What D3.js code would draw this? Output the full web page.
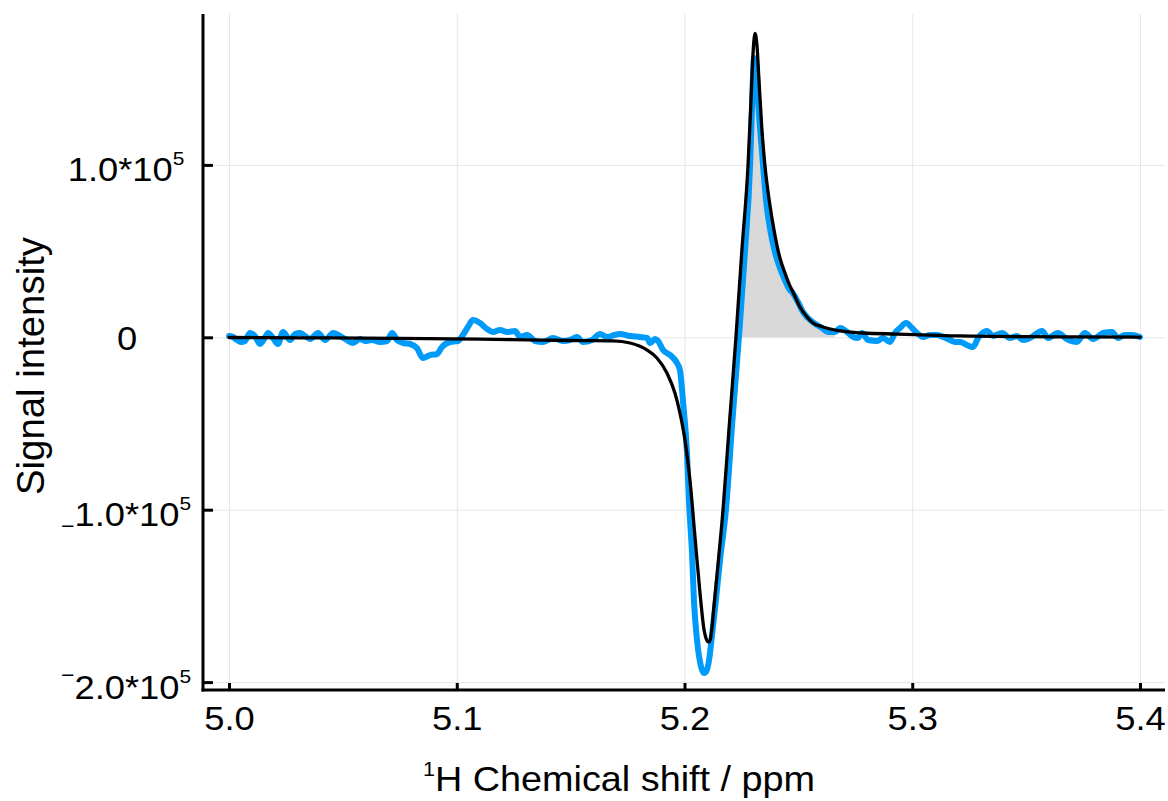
<!DOCTYPE html>
<html><head><meta charset="utf-8">
<script src="https://cdn.jsdelivr.net/npm/d3@7"></script>
<style>
body{margin:0;background:#fff}
svg{display:block}
text{font-family:"Liberation Sans",Arial,Helvetica,sans-serif;fill:#000}
</style>
</head><body>
<svg id="chart" width="1168" height="801"></svg>
<script>
// ---- data ----
const dataPpm = [5.0000,5.0018,5.0035,5.0053,5.0070,5.0092,5.0114,5.0136,5.0162,5.0171,
5.0193,5.0215,5.0237,5.0268,5.0290,5.0312,5.0334,5.0356,5.0391,5.0422,
5.0457,5.0487,5.0518,5.0544,5.0575,5.0597,5.0628,5.0663,5.0694,5.0716,
5.0738,5.0764,5.0795,5.0825,5.0852,5.0883,5.0913,5.0935,5.0970,5.1005,
5.1027,5.1049,5.1071,5.1102,5.1133,5.1159,5.1190,5.1221,5.1256,5.1278,
5.1309,5.1344,5.1379,5.1423,5.1466,5.1497,5.1528,5.1554,5.1594,5.1629,
5.1660,5.1690,5.1717,5.1761,5.1805,5.1836,5.1849,5.1871,5.1884,5.1906,
5.1937,5.1967,5.1980,5.1994,5.2011,5.2020,5.2033,5.2042,5.2055,5.2073,
5.2086,5.2094,5.2108,5.2121,5.2138,5.2156,5.2182,5.2209,5.2239,5.2266,
5.2288,5.2296,5.2305,5.2314,5.2323,5.2336,5.2345,5.2358,5.2375,5.2397,
5.2419,5.2441,5.2463,5.2472,5.2498,5.2520,5.2542,5.2582,5.2604,5.2630,
5.2661,5.2683,5.2714,5.2740,5.2762,5.2779,5.2806,5.2845,5.2872,5.2902,
5.2924,5.2946,5.2973,5.2999,5.3021,5.3047,5.3078,5.3109,5.3135,5.3166,
5.3188,5.3210,5.3240,5.3267,5.3289,5.3328,5.3355,5.3394,5.3429,5.3460,
5.3486,5.3517,5.3570,5.3596,5.3640,5.3679,5.3723,5.3758,5.3794,5.3838,
5.3877,5.3903,5.3934,5.3965,5.4000];
const dataIntensity = [750,170,-1570,-2730,-2150,2490,750,-3890,750,2490,
-410,-3890,3070,-1570,1910,2490,750,-990,2490,-1570,
2490,750,-1570,-3310,-990,-2150,-1570,-2730,-2150,2490,
-1570,-3310,-3890,-6210,-12000,-10300,-9700,-5630,-2730,-2150,
1330,5970,10000,8290,4810,3070,4230,3070,3650,170,
1330,-2150,-2730,-410,-2150,-1570,170,-2730,-1570,1910,
170,1330,1910,750,170,-410,-3310,-990,-2150,-7400,
-10300,-14900,-19000,-38100,-67100,-96100,-125100,-154100,-175600,-191200,
-194700,-194100,-187100,-172600,-152300,-129100,-100000,-50800,200,50600,
99900,131800,162000,160800,137600,114400,99900,79600,63400,49500,
40200,33200,27400,26300,20500,14700,11200,7100,5400,3100,
3100,5400,3100,200,-400,2500,-1600,-2100,-400,-2700,
2500,5400,8300,5400,2500,200,1300,1300,200,-1600,
-2700,-2700,-4500,-5600,-400,3700,800,2500,-400,800,
-1600,-400,3700,-400,2500,-1000,-2700,2500,-1000,2500,
3100,-400,1300,1300,200];

const fitPpm = [5.0000,5.0312,5.0751,5.1102,5.1366,5.1541,5.1686,5.1761,5.1836,5.1879,
5.1923,5.1958,5.1980,5.2002,5.2024,5.2046,5.2068,5.2086,5.2095,5.2102,
5.2108,5.2113,5.2118,5.2130,5.2147,5.2169,5.2195,5.2226,5.2252,5.2279,
5.2292,5.2300,5.2305,5.2309,5.2313,5.2318,5.2327,5.2340,5.2353,5.2375,
5.2397,5.2419,5.2441,5.2463,5.2476,5.2507,5.2538,5.2564,5.2608,5.2683,
5.2784,5.2933,5.3078,5.3210,5.3605,5.4000];
const fitIntensity = [-100,-300,-600,-1000,-1600,-1900,-2100,-3300,-7400,-12000,
-20700,-32300,-43900,-59600,-82800,-115800,-148300,-169800,-174800,-176500,
-176700,-175500,-171500,-155200,-132000,-100200,-53800,200,50600,99900,
137600,162500,172500,176300,175000,169500,149200,120200,99900,76700,
59300,46000,37300,29800,26300,17600,11800,8300,6000,3700,
2500,1900,1300,800,300,100];

const integralRange = [5.2239, 5.2661];
const xTicks = [5.0, 5.1, 5.2, 5.3, 5.4];
const xTickLabels = ["5.0", "5.1", "5.2", "5.3", "5.4"];
const yTicks = [-2e5, -1e5, 0, 1e5];
const xDomain = [4.98858, 5.41098];
const yDomain = [-2.0458e5, 1.8753e5];
const xTitle = "H Chemical shift / ppm";
const xTitleSup = "1";
const yTitle = "Signal intensity";

// ---- layout ----
const L = 203, R = 1165, T = 14, B = 690;
const svg = d3.select("#chart");
const x = d3.scaleLinear().domain(xDomain).range([L, R]);
const y = d3.scaleLinear().domain(yDomain).range([B, T]);
const STRETCH = 1.1;
const TICK_FS = 33;
const FONT = '"Liberation Sans",Arial,Helvetica,sans-serif';

// grid
svg.append("g").attr("transform", `translate(0,${B})`)
  .call(d3.axisBottom(x).tickValues(xTicks).tickSize(-(B - T)).tickFormat(""))
  .call(g => { g.select(".domain").remove(); g.selectAll("line").attr("stroke", "#e6e6e6").attr("stroke-width", 1); });
svg.append("g").attr("transform", `translate(${L},0)`)
  .call(d3.axisLeft(y).tickValues(yTicks).tickSize(-(R - L)).tickFormat(""))
  .call(g => { g.select(".domain").remove(); g.selectAll("line").attr("stroke", "#e6e6e6").attr("stroke-width", 1); });

// data
const blue = dataPpm.map((p, i) => [p, dataIntensity[i]]);
const fit = fitPpm.map((p, i) => [p, fitIntensity[i]]);
const integ = blue.filter(d => d[0] >= integralRange[0] && d[0] <= integralRange[1]);

svg.append("path").datum(integ)
  .attr("fill", "#d9d9d9")
  .attr("d", d3.area().curve(d3.curveMonotoneX).x(d => x(d[0])).y0(y(0)).y1(d => y(d[1])));

svg.append("path").datum(blue)
  .attr("fill", "none").attr("stroke", "#009af9").attr("stroke-width", 6)
  .attr("stroke-linejoin", "round").attr("stroke-linecap", "round")
  .attr("d", d3.line().curve(d3.curveMonotoneX).x(d => x(d[0])).y(d => y(d[1])));

svg.append("path").datum(fit)
  .attr("fill", "none").attr("stroke", "#000").attr("stroke-width", 3.3)
  .attr("stroke-linejoin", "round").attr("stroke-linecap", "round")
  .attr("d", d3.line().curve(d3.curveMonotoneX).x(d => x(d[0])).y(d => y(d[1])));

// axes
const xAxis = svg.append("g").attr("transform", `translate(0,${B})`)
  .call(d3.axisBottom(x).tickValues(xTicks).tickSize(-7).tickSizeOuter(0)
        .tickPadding(0).tickFormat((d, i) => xTickLabels[i]));
xAxis.select(".domain").attr("stroke", "#000").attr("stroke-width", 3)
  .attr("d", `M${L - 1.5},0H${R}`);
xAxis.selectAll(".tick line").attr("stroke", "#000").attr("stroke-width", 3);
xAxis.selectAll(".tick text")
  .attr("font-size", TICK_FS).attr("fill", "#000").attr("y", 0).attr("dy", 0)
  .attr("transform", `translate(0,40) scale(${STRETCH},1)`)
  .attr("font-family", FONT);

const yAxis = svg.append("g").attr("transform", `translate(${L},0)`)
  .call(d3.axisLeft(y).tickValues(yTicks).tickSize(-10).tickSizeOuter(0).tickPadding(0));
yAxis.select(".domain").attr("stroke", "#000").attr("stroke-width", 3)
  .attr("d", `M0,${B + 1.5}V${T}`);
yAxis.selectAll(".tick line").attr("stroke", "#000").attr("stroke-width", 3);
yAxis.selectAll(".tick text").each(function (v) {
  const t = d3.select(this);
  t.text(null).attr("x", 0).attr("dy", 0).attr("y", 0)
   .attr("text-anchor", "middle").attr("font-size", TICK_FS).attr("fill", "#000")
   .attr("font-family", FONT);
  if (v === 0) {
    t.attr("transform", `translate(-76,12) scale(${STRETCH},1)`).text("0");
    return;
  }
  const e = Math.floor(Math.log10(Math.abs(v)));
  const m = (Math.abs(v) / Math.pow(10, e)).toFixed(1);
  t.attr("transform", `translate(-77,16) scale(${STRETCH},1)`);
  if (v < 0) {
    const shift = Math.abs(v) >= 2e5 ? -17 : 7;
    t.append("tspan").attr("font-size", 21).attr("dy", shift).text("\u2212");
    t.append("tspan").attr("dy", -shift).text(m + "*10");
  } else {
    t.append("tspan").text(m + "*10");
  }
  t.append("tspan").attr("font-size", 19).attr("dy", -16).text(String(e));
});

// axis titles
const xt = svg.append("text").attr("text-anchor", "middle")
  .attr("transform", `translate(619,791) scale(1.08,1)`).attr("font-size", 35);
xt.append("tspan").attr("font-size", 20).attr("dy", -15).text(xTitleSup);
xt.append("tspan").attr("dy", 15).text(xTitle);

svg.append("text").attr("text-anchor", "middle")
  .attr("transform", `translate(44,366) rotate(-90)`)
  .attr("font-size", 39).attr("textLength", 258).attr("lengthAdjust", "spacingAndGlyphs")
  .text(yTitle);
</script>
</body></html>
